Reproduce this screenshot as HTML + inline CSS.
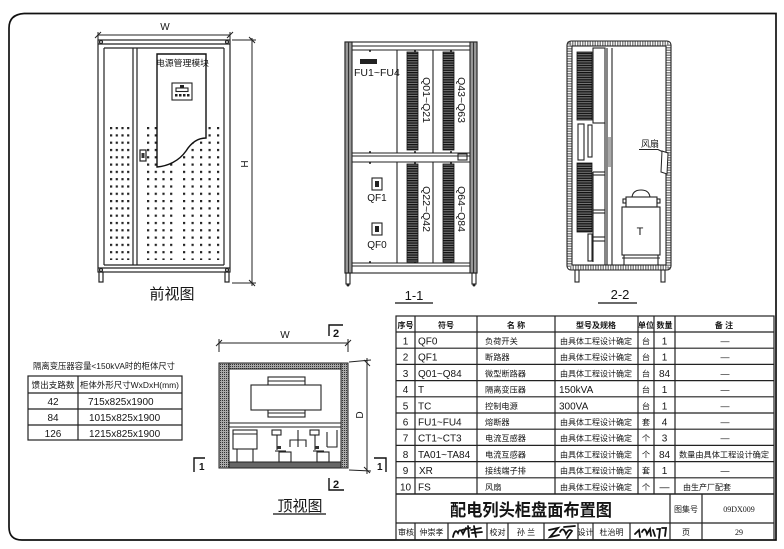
<!DOCTYPE html>
<html><head><meta charset="utf-8">
<style>
html,body{margin:0;padding:0;background:#fff;}
svg{display:block;}
text{font-family:"Liberation Sans","Noto Sans CJK SC",sans-serif;fill:#151515;}
</style></head><body>
<svg width="784" height="549" viewBox="0 0 784 549" xmlns="http://www.w3.org/2000/svg">
<defs>
<pattern id="d1" x="110" y="127" width="5.7" height="7.3" patternUnits="userSpaceOnUse"><rect width="2.2" height="2.2" fill="#222"/></pattern>
<pattern id="d2" x="147" y="127" width="7.7" height="7.3" patternUnits="userSpaceOnUse"><rect width="2.2" height="2.2" fill="#222"/></pattern>
<pattern id="d3" x="183" y="127" width="8.5" height="7.3" patternUnits="userSpaceOnUse"><rect width="2.2" height="2.2" fill="#222"/></pattern>
<pattern id="hs" x="0" y="0" width="4" height="2.4" patternUnits="userSpaceOnUse"><rect width="4" height="2.4" fill="#777"/><rect width="4" height="1.3" fill="#111"/></pattern>
<pattern id="st" x="0" y="0" width="2" height="2" patternUnits="userSpaceOnUse"><rect width="2" height="2" fill="#aaa"/><rect width="1" height="1" fill="#333"/></pattern>
</defs>

<!-- outer border -->
<path d="M24 13.5 H776 V540 H22 Q9 540 9 527 V28 Q9 14.5 24 13.5" fill="none" stroke="#111" stroke-width="1.7"/>

<!-- ================= FRONT VIEW ================= -->
<g stroke="#222" fill="none" stroke-width="1">
  <line x1="98" y1="35" x2="230" y2="35"/>
  <line x1="95" y1="38" x2="101" y2="32"/><line x1="227" y1="38" x2="233" y2="32"/>
  <line x1="98" y1="32" x2="98" y2="40"/><line x1="230" y1="32" x2="230" y2="40"/>
  <line x1="252" y1="38" x2="252" y2="286"/>
  <line x1="249" y1="37" x2="255" y2="43"/><line x1="249" y1="280" x2="255" y2="286"/>
  <line x1="232" y1="40" x2="256" y2="40"/><line x1="232" y1="283" x2="256" y2="283"/>
</g>
<text x="165" y="30" font-size="10" text-anchor="middle">W</text>
<text transform="translate(248,164) rotate(-90)" font-size="10" text-anchor="middle">H</text>

<rect x="109" y="126" width="23" height="134" fill="url(#d1)"/>
<rect x="146" y="126" width="30" height="134" fill="url(#d2)"/>
<rect x="182" y="126" width="40" height="134" fill="url(#d3)"/>

<g stroke="#222" fill="none" stroke-width="1.2">
  <rect x="98" y="40" width="132" height="232"/>
  <line x1="104" y1="48" x2="104" y2="265"/>
  <line x1="224" y1="48" x2="224" y2="265"/>
  <line x1="98" y1="44" x2="230" y2="44"/>
  <line x1="104" y1="48" x2="224" y2="48"/>
  <line x1="104" y1="265" x2="224" y2="265"/>
  <line x1="98" y1="268" x2="230" y2="268"/>
  <line x1="133" y1="48" x2="133" y2="265"/>
  <line x1="137" y1="48" x2="137" y2="265"/>
  <rect x="99" y="272" width="4" height="10"/>
  <rect x="225" y="272" width="4" height="10"/>
  <circle cx="101" cy="42" r="1.5"/><circle cx="227" cy="42" r="1.5"/>
  <circle cx="101" cy="270" r="1.5"/><circle cx="227" cy="270" r="1.5"/>
  <rect x="140" y="150" width="6" height="11"/>
</g>
<rect x="141.5" y="153" width="3" height="5" fill="#333"/>
<path d="M157 54 L206 54 L206 138 C197 138 191 143 186 151 C179 161 168 166 157 167 Z" fill="#fff" stroke="#111" stroke-width="1.4"/>
<text x="156" y="66" font-size="8.5" textLength="53" lengthAdjust="spacingAndGlyphs">电源管理模块</text>
<g stroke="#222" fill="none" stroke-width="1.1">
  <rect x="172" y="83" width="20" height="17"/>
  <rect x="176" y="88" width="12" height="3.5"/>
</g>
<rect x="180" y="85" width="4" height="3" fill="#222"/>
<g fill="#222"><rect x="175" y="94" width="2.5" height="2.5"/><rect x="179" y="94" width="2.5" height="2.5"/><rect x="183" y="94" width="2.5" height="2.5"/><rect x="187" y="94" width="2.5" height="2.5"/></g>
<text x="172" y="299" font-size="15" text-anchor="middle">前视图</text>

<!-- ================= 1-1 VIEW ================= -->
<g stroke="#222" fill="none" stroke-width="1.1">
  <rect x="345" y="42" width="132" height="231"/>
  <rect x="345" y="42" width="7" height="231" fill="#999"/>
  <rect x="470" y="42" width="7" height="231" fill="#999"/>
  <line x1="348.5" y1="42" x2="348.5" y2="273" stroke="#333"/>
  <line x1="473.5" y1="42" x2="473.5" y2="273" stroke="#333"/>
  <line x1="352" y1="46" x2="470" y2="46"/>
  <line x1="352" y1="50" x2="470" y2="50"/>
  <line x1="352" y1="153" x2="470" y2="153"/>
  <line x1="352" y1="156" x2="470" y2="156"/>
  <line x1="352" y1="162" x2="470" y2="162"/>
  <line x1="352" y1="263" x2="470" y2="263"/>
  <line x1="352" y1="266" x2="470" y2="266"/>
  <line x1="397" y1="50" x2="397" y2="153"/><line x1="397" y1="162" x2="397" y2="263"/>
  <line x1="433" y1="50" x2="433" y2="153"/><line x1="433" y1="162" x2="433" y2="263"/>
  <rect x="346" y="273" width="4" height="11"/>
  <rect x="472" y="273" width="4" height="11"/>
  <rect x="458" y="154" width="9" height="6"/>
  <rect x="372" y="178" width="10" height="12"/>
  <rect x="372" y="223" width="10" height="12"/>
</g>
<g fill="#222">
  <circle cx="348" cy="285" r="1.5"/><circle cx="474" cy="285" r="1.5"/>
  <circle cx="370" cy="51" r="1"/><circle cx="415" cy="51" r="1"/><circle cx="451" cy="51" r="1"/>
  <circle cx="370" cy="152" r="1"/><circle cx="415" cy="152" r="1"/><circle cx="451" cy="152" r="1"/>
  <circle cx="370" cy="163" r="1"/><circle cx="415" cy="163" r="1"/><circle cx="451" cy="163" r="1"/>
  <circle cx="370" cy="262" r="1"/><circle cx="415" cy="262" r="1"/><circle cx="451" cy="262" r="1"/>
  <rect x="360" y="59" width="17" height="5"/>
  <rect x="375" y="181" width="4" height="6"/>
  <rect x="375" y="226" width="4" height="6"/>
</g>
<g stroke="#111" stroke-width="0.8">
  <rect x="407" y="52" width="11" height="98" fill="url(#hs)"/>
  <rect x="443" y="52" width="11" height="98" fill="url(#hs)"/>
  <rect x="407" y="164" width="11" height="98" fill="url(#hs)"/>
  <rect x="443" y="164" width="11" height="98" fill="url(#hs)"/>
</g>
<text x="354" y="76" font-size="10.5">FU1~FU4</text>
<text x="377" y="201" font-size="10" text-anchor="middle">QF1</text>
<text x="377" y="248" font-size="10" text-anchor="middle">QF0</text>
<text transform="translate(423,100) rotate(90)" font-size="10.5" text-anchor="middle">Q01~Q21</text>
<text transform="translate(458,100) rotate(90)" font-size="10.5" text-anchor="middle">Q43~Q63</text>
<text transform="translate(423,209) rotate(90)" font-size="10.5" text-anchor="middle">Q22~Q42</text>
<text transform="translate(458,209) rotate(90)" font-size="10.5" text-anchor="middle">Q64~Q84</text>
<text x="414" y="300" font-size="13" text-anchor="middle">1-1</text>
<line x1="395" y1="303" x2="433" y2="303" stroke="#111" stroke-width="1.3"/>

<!-- ================= 2-2 VIEW ================= -->
<rect x="569.5" y="43.5" width="99" height="224" fill="none" stroke="#888" stroke-width="4" stroke-dasharray="1.5 1"/>
<g stroke="#222" fill="none" stroke-width="1.1">
  <rect x="567" y="41" width="104" height="229" rx="4"/>
  <rect x="572" y="46" width="94" height="219"/>
  <rect x="575" y="270" width="4" height="12"/>
  <rect x="661" y="270" width="4" height="12"/>
  <line x1="607" y1="48" x2="607" y2="265"/>
  <line x1="612" y1="48" x2="612" y2="265"/>
  <rect x="593" y="48" width="12" height="75"/>
  <line x1="605" y1="123" x2="605" y2="265"/>
  <line x1="593" y1="172" x2="593" y2="262"/>
  <line x1="593" y1="172" x2="605" y2="172"/>
  <line x1="593" y1="175" x2="605" y2="175"/>
  <line x1="593" y1="210" x2="605" y2="210"/>
  <line x1="593" y1="213" x2="605" y2="213"/>
  <line x1="593" y1="237" x2="605" y2="237"/>
  <line x1="593" y1="241" x2="605" y2="241"/>
  <rect x="588" y="125" width="4" height="32"/>
  <rect x="588" y="234" width="4" height="27"/>
  <rect x="578" y="124" width="6" height="36"/>
</g>
<g stroke="#111" stroke-width="0.8">
  <rect x="577" y="52" width="15" height="68" fill="url(#hs)"/>
  <rect x="577" y="163" width="15" height="69" fill="url(#hs)"/>
</g>
<rect x="608" y="137" width="3" height="30" fill="#aaa"/>
<text x="641" y="147" font-size="9">风扇</text>
<path d="M639 149.5 H658 L665 153" fill="none" stroke="#222" stroke-width="1"/>
<path d="M662 151 L668 153 L667 174 L661 172 Z" fill="#fff" stroke="#222" stroke-width="1"/>
<g stroke="#222" fill="none" stroke-width="1.1">
  <path d="M632 197 Q633 190 641 190 Q649 190 650 197"/>
  <rect x="626" y="197" width="31" height="10"/>
  <rect x="623" y="199" width="3" height="4"/><rect x="657" y="199" width="3" height="4"/>
  <rect x="622" y="207" width="38" height="48"/>
  <line x1="624" y1="255" x2="624" y2="265"/><line x1="658" y1="255" x2="658" y2="265"/>
  <line x1="622" y1="258" x2="660" y2="258"/>
</g>
<text x="640" y="235" font-size="11" text-anchor="middle">T</text>
<text x="620" y="299" font-size="13" text-anchor="middle">2-2</text>
<line x1="598" y1="303" x2="637" y2="303" stroke="#111" stroke-width="1.3"/>

<!-- ================= TOP VIEW ================= -->
<g stroke="#222" fill="none" stroke-width="1">
  <line x1="219" y1="343" x2="348" y2="343"/>
  <line x1="216" y1="346" x2="222" y2="340"/><line x1="345" y1="346" x2="351" y2="340"/>
  <line x1="219" y1="339" x2="219" y2="352"/><line x1="348" y1="339" x2="348" y2="352"/>
  <line x1="367" y1="358" x2="367" y2="474"/>
  <line x1="364" y1="360" x2="370" y2="366"/><line x1="364" y1="467" x2="370" y2="473"/>
  <line x1="349" y1="362" x2="371" y2="360"/><line x1="349" y1="470" x2="371" y2="471"/>
</g>
<text x="285" y="338" font-size="10" text-anchor="middle">W</text>
<text transform="translate(363,415) rotate(-90)" font-size="10" text-anchor="middle">D</text>

<rect x="219" y="363" width="10" height="105" fill="url(#st)" stroke="#222"/>
<rect x="341" y="363" width="7" height="105" fill="url(#st)" stroke="#222"/>
<rect x="229" y="363" width="112" height="6" fill="url(#st)" stroke="#222"/>
<rect x="229" y="462" width="112" height="6" fill="#666" stroke="#222"/>
<g stroke="#222" fill="none" stroke-width="1.1">
  <line x1="229" y1="423" x2="341" y2="423"/>
  <line x1="229" y1="427" x2="341" y2="427"/>
  <rect x="268" y="377" width="37" height="40" fill="#fff"/>
  <line x1="268" y1="381" x2="305" y2="381"/>
  <line x1="268" y1="413" x2="305" y2="413"/>
  <rect x="251" y="385" width="70" height="25" fill="#fff"/>
  <rect x="233" y="430" width="24" height="19"/>
  <line x1="233" y1="434" x2="257" y2="434"/>
  <line x1="237" y1="449" x2="237" y2="462"/><line x1="253" y1="449" x2="253" y2="462"/>
  <rect x="272" y="430" width="9" height="5"/>
  <line x1="277" y1="435" x2="277" y2="450"/>
  <rect x="279" y="452" width="12" height="10"/>
  <line x1="275" y1="451" x2="286" y2="451"/>
  <path d="M290 447 V440 H306 V447"/>
  <line x1="298" y1="430" x2="298" y2="447"/>
  <rect x="310" y="430" width="9" height="5"/>
  <line x1="315" y1="435" x2="315" y2="450"/>
  <rect x="317" y="452" width="12" height="10"/>
  <line x1="313" y1="451" x2="324" y2="451"/>
  <path d="M327 447 V432 M327 447 H337 V430"/>
</g>
<rect x="277" y="446" width="4" height="3" fill="#333"/>
<rect x="315" y="446" width="4" height="3" fill="#333"/>

<!-- section markers -->
<g stroke="#111" fill="none" stroke-width="1.4">
  <path d="M329 336 V325 H343"/>
  <path d="M329 478 V490 H344"/>
  <path d="M194 472 V458 H205"/>
  <path d="M386 472 V458 H374"/>
</g>
<text x="333" y="337" font-size="11" font-weight="bold">2</text>
<text x="333" y="488" font-size="11" font-weight="bold">2</text>
<text x="199" y="470" font-size="10" font-weight="bold">1</text>
<text x="377" y="470" font-size="10" font-weight="bold">1</text>
<text x="300" y="511" font-size="15" text-anchor="middle">顶视图</text>
<line x1="273" y1="514" x2="326" y2="514" stroke="#111" stroke-width="1.3"/>

<!-- ================= SIZE TABLE ================= -->
<text x="33" y="369" font-size="8.5" textLength="142" lengthAdjust="spacingAndGlyphs">隔离变压器容量&lt;150kVA时的柜体尺寸</text>
<g stroke="#222" fill="none" stroke-width="1.2">
  <rect x="28" y="376" width="154" height="64"/>
  <line x1="28" y1="393" x2="182" y2="393"/>
  <line x1="28" y1="409" x2="182" y2="409"/>
  <line x1="28" y1="425" x2="182" y2="425"/>
  <line x1="78" y1="376" x2="78" y2="440"/>
</g>
<text x="53" y="388" font-size="8.5" text-anchor="middle" textLength="43" lengthAdjust="spacingAndGlyphs">馈出支路数</text>
<text x="80" y="388" font-size="8.5" textLength="99" lengthAdjust="spacingAndGlyphs">柜体外形尺寸WxDxH(mm)</text>
<text x="53" y="405" font-size="10" text-anchor="middle">42</text>
<text x="53" y="421" font-size="10" text-anchor="middle">84</text>
<text x="53" y="437" font-size="10" text-anchor="middle">126</text>
<text x="88" y="405" font-size="10">715x825x1900</text>
<text x="89" y="421" font-size="10">1015x825x1900</text>
<text x="89" y="437" font-size="10">1215x825x1900</text>

<!-- ================= MAIN TABLE ================= -->
<g stroke="#222" fill="none" stroke-width="1.2">
  <rect x="396" y="316" width="378" height="224"/>
  <line x1="396" y1="332" x2="774" y2="332"/>
  <line x1="396" y1="348.2" x2="774" y2="348.2"/>
  <line x1="396" y1="364.4" x2="774" y2="364.4"/>
  <line x1="396" y1="380.6" x2="774" y2="380.6"/>
  <line x1="396" y1="396.8" x2="774" y2="396.8"/>
  <line x1="396" y1="413" x2="774" y2="413"/>
  <line x1="396" y1="429.2" x2="774" y2="429.2"/>
  <line x1="396" y1="445.4" x2="774" y2="445.4"/>
  <line x1="396" y1="461.6" x2="774" y2="461.6"/>
  <line x1="396" y1="477.8" x2="774" y2="477.8"/>
  <line x1="396" y1="494" x2="774" y2="494" stroke-width="1.4"/>
  <line x1="415" y1="316" x2="415" y2="494"/>
  <line x1="477" y1="316" x2="477" y2="494"/>
  <line x1="555" y1="316" x2="555" y2="494"/>
  <line x1="638" y1="316" x2="638" y2="494"/>
  <line x1="654" y1="316" x2="654" y2="494"/>
  <line x1="675" y1="316" x2="675" y2="494"/>
  <line x1="396" y1="523" x2="774" y2="523"/>
  <line x1="670" y1="494" x2="670" y2="540"/>
  <line x1="702" y1="494" x2="702" y2="540"/>
  <line x1="415" y1="523" x2="415" y2="540"/>
  <line x1="448" y1="523" x2="448" y2="540"/>
  <line x1="487" y1="523" x2="487" y2="540"/>
  <line x1="508" y1="523" x2="508" y2="540"/>
  <line x1="544" y1="523" x2="544" y2="540"/>
  <line x1="578" y1="523" x2="578" y2="540"/>
  <line x1="593" y1="523" x2="593" y2="540"/>
  <line x1="630" y1="523" x2="630" y2="540"/>
</g>
<g font-size="8" font-weight="bold">
  <text x="405.5" y="328" text-anchor="middle">序号</text>
  <text x="446" y="328" text-anchor="middle">符号</text>
  <text x="516" y="328" text-anchor="middle">名 称</text>
  <text x="596" y="328" text-anchor="middle">型号及规格</text>
  <text x="646" y="328" text-anchor="middle">单位</text>
  <text x="664.5" y="328" text-anchor="middle">数量</text>
  <text x="724" y="328" text-anchor="middle">备 注</text>
</g>
<g font-size="10" text-anchor="middle">
  <text x="405.5" y="344.5">1</text>
  <text x="405.5" y="360.7">2</text>
  <text x="405.5" y="376.9">3</text>
  <text x="405.5" y="393.1">4</text>
  <text x="405.5" y="409.3">5</text>
  <text x="405.5" y="425.5">6</text>
  <text x="405.5" y="441.7">7</text>
  <text x="405.5" y="457.9">8</text>
  <text x="405.5" y="474.1">9</text>
  <text x="405.5" y="490.3">10</text>
</g>
<g font-size="10">
  <text x="418" y="344.5">QF0</text>
  <text x="418" y="360.7">QF1</text>
  <text x="418" y="376.9">Q01~Q84</text>
  <text x="418" y="393.1">T</text>
  <text x="418" y="409.3">TC</text>
  <text x="418" y="425.5">FU1~FU4</text>
  <text x="418" y="441.7">CT1~CT3</text>
  <text x="418" y="457.9">TA01~TA84</text>
  <text x="419" y="474.1">XR</text>
  <text x="418" y="490.3">FS</text>
</g>
<g font-size="8.2">
  <text x="485" y="344">负荷开关</text>
  <text x="485" y="360.2">断路器</text>
  <text x="485" y="376.4">微型断路器</text>
  <text x="485" y="392.6">隔离变压器</text>
  <text x="485" y="408.8">控制电源</text>
  <text x="485" y="425">熔断器</text>
  <text x="485" y="441.2">电流互感器</text>
  <text x="485" y="457.4">电流互感器</text>
  <text x="485" y="473.6">接线端子排</text>
  <text x="485" y="489.8">风扇</text>
</g>
<g font-size="8">
  <text x="560" y="344" textLength="72" lengthAdjust="spacingAndGlyphs">由具体工程设计确定</text>
  <text x="560" y="360.2" textLength="72" lengthAdjust="spacingAndGlyphs">由具体工程设计确定</text>
  <text x="560" y="376.4" textLength="72" lengthAdjust="spacingAndGlyphs">由具体工程设计确定</text>
  <text x="560" y="425" textLength="72" lengthAdjust="spacingAndGlyphs">由具体工程设计确定</text>
  <text x="560" y="441.2" textLength="72" lengthAdjust="spacingAndGlyphs">由具体工程设计确定</text>
  <text x="560" y="457.4" textLength="72" lengthAdjust="spacingAndGlyphs">由具体工程设计确定</text>
  <text x="560" y="473.6" textLength="72" lengthAdjust="spacingAndGlyphs">由具体工程设计确定</text>
  <text x="560" y="489.8" textLength="72" lengthAdjust="spacingAndGlyphs">由具体工程设计确定</text>
</g>
<text x="559" y="393.1" font-size="10">150kVA</text>
<text x="559" y="409.3" font-size="10">300VA</text>
<g font-size="8.2" text-anchor="middle">
  <text x="646" y="344">台</text>
  <text x="646" y="360.2">台</text>
  <text x="646" y="376.4">台</text>
  <text x="646" y="392.6">台</text>
  <text x="646" y="408.8">台</text>
  <text x="646" y="425">套</text>
  <text x="646" y="441.2">个</text>
  <text x="646" y="457.4">个</text>
  <text x="646" y="473.6">套</text>
  <text x="646" y="489.8">个</text>
</g>
<g font-size="10" text-anchor="middle">
  <text x="664.5" y="344.5">1</text>
  <text x="664.5" y="360.7">1</text>
  <text x="664.5" y="376.9">84</text>
  <text x="664.5" y="393.1">1</text>
  <text x="664.5" y="409.3">1</text>
  <text x="664.5" y="425.5">4</text>
  <text x="664.5" y="441.7">3</text>
  <text x="664.5" y="457.9">84</text>
  <text x="664.5" y="474.1">1</text>
  <text x="664.5" y="490.3">—</text>
</g>
<g font-size="9" text-anchor="middle">
  <text x="725" y="344">—</text>
  <text x="725" y="360.2">—</text>
  <text x="725" y="376.4">—</text>
  <text x="725" y="392.6">—</text>
  <text x="725" y="408.8">—</text>
  <text x="725" y="425">—</text>
  <text x="725" y="441.2">—</text>
  <text x="725" y="473.6">—</text>
</g>
<text x="679" y="457.4" font-size="8" textLength="90" lengthAdjust="spacingAndGlyphs">数量由具体工程设计确定</text>
<text x="683" y="489.8" font-size="8">由生产厂配套</text>

<!-- title block -->
<text x="531" y="516" font-size="17" font-weight="bold" text-anchor="middle" textLength="162" lengthAdjust="spacingAndGlyphs">配电列头柜盘面布置图</text>
<text x="686" y="512" font-size="8" text-anchor="middle">图集号</text>
<text x="739" y="512" font-size="8" text-anchor="middle" style="font-family:'Liberation Serif',serif">09DX009</text>
<g font-size="8" text-anchor="middle">
  <text x="406" y="535">审核</text>
  <text x="431.5" y="535">仲崇孝</text>
  <text x="497.5" y="535">校对</text>
  <text x="526" y="535">孙 兰</text>
  <text x="585.5" y="535">设计</text>
  <text x="611.5" y="535">杜治明</text>
  <text x="686" y="535">页</text>
</g>
<text x="739" y="535" font-size="8" text-anchor="middle" style="font-family:'Liberation Serif',serif">29</text>
<g stroke="#111" fill="none" stroke-width="1.8" stroke-linecap="round">
  <path d="M453 537 Q455 528 458 533 Q460 527 463 534 L466 528 M462 530 L470 528 M468 526 L469 537 M471 530 L481 528 M474 526 L476 537 M472 533 L482 532"/>
  <path d="M549 530 L558 528 L550 537 L559 535 M560 532 Q563 526 566 534 Q569 528 572 531 L567 538 M564 527 L575 526"/>
  <path d="M635 534 L639 530 L640 537 M642 532 Q645 526 647 534 L650 529 L651 536 M653 530 L655 536 M657 529 L660 529 L659 538 M662 528 L666 528 L665 536"/>
</g>
</svg>
</body></html>
